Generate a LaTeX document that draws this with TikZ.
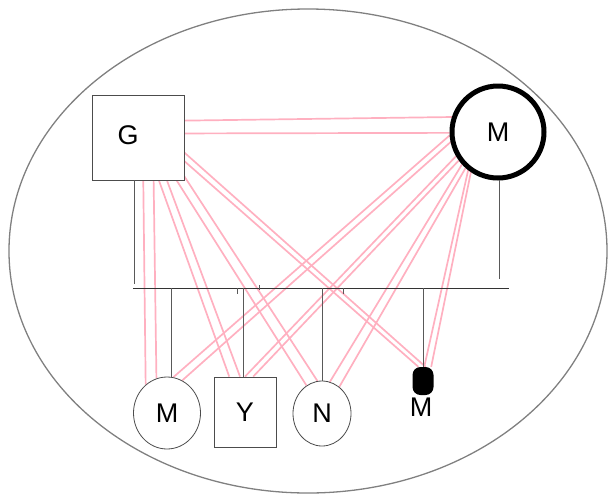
\documentclass[tikz,border=0pt]{standalone}
\usepackage{fontspec}
\setmainfont{Liberation Sans}
\usepackage{xcolor}
\usepackage{tikz}
\usetikzlibrary{calc}
\usetikzlibrary{positioning}
\usetikzlibrary{shapes.geometric}
\usetikzlibrary{backgrounds}

\definecolor{bondpink}{RGB}{255,176,192}

\begin{document}
\begin{tikzpicture}[x=1pt,y=-1pt,
	person/.style={draw=black!70,line width=0.8pt,fill=white,inner sep=0pt,font=\fontsize{27}{30}\selectfont},
	male/.style={person,rectangle},
	female/.style={person,ellipse},
	tie/.style={black!65,line width=0.8pt},
	bond/.style={bondpink,line width=1.7pt}]

	\useasboundingbox (0,0) rectangle (608,496);

	\draw [black!50,line width=1.3pt] (308,251) ellipse [x radius=299,y radius=242];

	\node [male,minimum width=92,minimum height=85] (G) at (138,137.5) {};
	
	\node [font=\fontsize{27}{30}\selectfont] (Gname) at (128,135) {G};

	\node [person,circle,draw=black,line width=5pt,minimum size=92] (Mf) at (498,132) {M};

	\node [female,minimum width=67,minimum height=72] (m1) at (167,413) {M};

	\node [male,minimum width=62,minimum height=70] (Y) at (245,412) {Y};

	\node [female,minimum width=58,minimum height=65] (N) at (322,413.5) {N};

	\node [fill=black,rounded corners=8pt,minimum width=21,minimum height=28,inner sep=0pt] (blob) at (423,381) {};

	\node [font=\fontsize{27}{30}\selectfont] (blobname) at (421,407) {M};

	\coordinate (sibL) at (133,288);
	\coordinate (sibR) at (509,288);

	\draw [tie,black!80] (sibL) -- (sibR);

	\draw [tie] (G.-95) -- ($(G.-95 |- sibL)+(0,-4)$);

	\draw [tie] (Mf.-88) -- ($(Mf.-88 |- sibL)+(0,-9)$);

	\draw [tie] (m1.83) -- (m1.83 |- sibL);
	\draw [tie] (Y.93) -- (Y.93 |- sibL);
	\draw [tie] (N.north) -- (N.north |- sibL);
	\draw [tie] (blob.north) -- (blob.north |- sibL);

	\draw [tie] (237,288) -- ++(0,6);
	\draw [tie] (259,285) -- ++(0,5);
	\draw [tie] (343,288) -- ++(0,6);

	\begin{scope}[on background layer]
		\draw [bond] (G.20) -- (Mf.162);
		\draw [bond] (G.5) -- (Mf.181);

		\draw [bond] (G.-83) -- (m1.127);
		\draw [bond] (G.-70) -- (m1.107);

		\draw [bond] (G.-64) -- (Y.114);
		\draw [bond] (G.-56) -- (Y.98);

		\draw [bond] (G.-48) -- (N.119);
		\draw [bond] (G.-40) -- (N.98);

		\draw [bond] (G.-18) -- (blob.80);
		\draw [bond] (G.-27) -- (blob.108);

		\draw [bond] (Mf.184) -- (m1.80);
		\draw [bond] (Mf.192) -- (m1.65);

		\draw [bond] (Mf.210) -- (Y.90);
		\draw [bond] (Mf.216) -- (Y.77);

		\draw [bond] (Mf.222) -- (N.76);
		\draw [bond] (Mf.228) -- (N.57);

		\draw [bond] (Mf.232) -- (blob.85);
		\draw [bond] (Mf.236) -- (blob.60);
	\end{scope}

\end{tikzpicture}
\end{document}
